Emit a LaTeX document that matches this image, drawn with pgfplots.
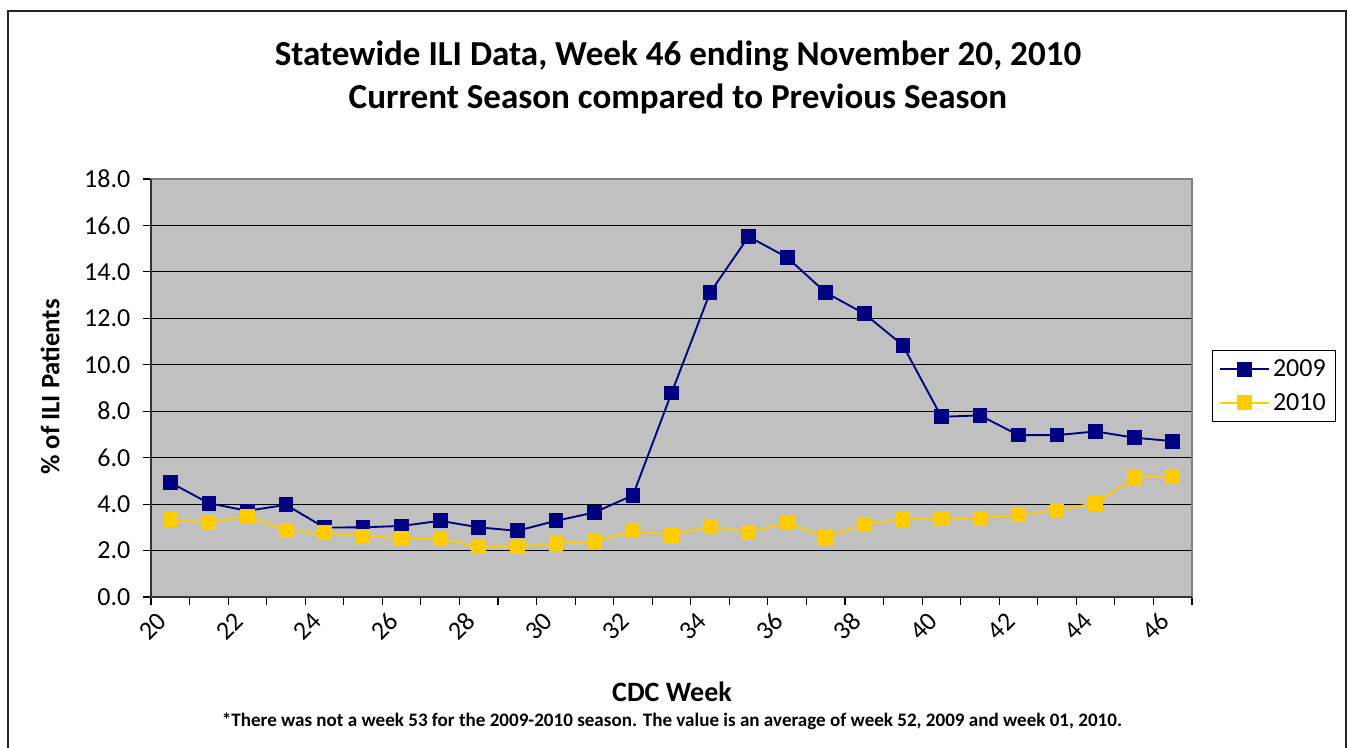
\documentclass[border=0pt]{standalone}
\usepackage{pgfplots}
\pgfplotsset{compat=1.18}
\usepackage{fontspec}
\setmainfont{Carlito}
\definecolor{navyS}{HTML}{000080}
\definecolor{goldS}{HTML}{FFCC00}
\definecolor{plotbg}{HTML}{C0C0C0}
\definecolor{bordergray}{HTML}{808080}
\begin{document}
\begin{tikzpicture}
\path[use as bounding box] (0,0) rectangle (1011pt,561pt);
\draw[line width=1.2pt, black!85] (6pt,-3pt) rectangle (1009.5pt,552.75pt);
\node[font=\bfseries\fontsize{26.3}{30}\selectfont] at (508.5pt,519pt) {Statewide ILI Data, Week 46 ending November 20, 2010};
\node[font=\bfseries\fontsize{26.3}{30}\selectfont] at (508.5pt,486.75pt) {Current Season compared to Previous Season};
\node[font=\bfseries\fontsize{20}{24}\selectfont, rotate=90] at (37.5pt,270.75pt) {\% of ILI Patients};
\node[font=\bfseries\fontsize{21}{25}\selectfont] at (504pt,42pt) {CDC Week};
\node[font=\bfseries\fontsize{14.3}{17}\selectfont] at (504pt,20.25pt) {*There was not a week 53 for the 2009-2010 season. The value is an average of week 52, 2009 and week 01, 2010.};
\begin{axis}[
  at={(113.25pt,113.25pt)}, anchor=south west,
  scale only axis, width=780.75pt, height=313.5pt,
  xmin=19.5, xmax=46.5, ymin=0, ymax=18,
  axis background/.style={fill=plotbg},
  axis line style={draw=bordergray, line width=1.5pt},
  ytick={0,2,...,18},
  yticklabel style={font=\fontsize{19.5}{23}\selectfont, xshift=-6pt, /pgf/number format/fixed, /pgf/number format/fixed zerofill, /pgf/number format/precision=1, /pgf/number format/assume math mode=true},
  ymajorgrids, grid style={black, line width=0.8pt},
  xtick={20,22,...,46},
  xticklabel style={rotate=45, anchor=east, xshift=-7pt, yshift=-2pt, font=\fontsize{19.5}{23}\selectfont, /pgf/number format/assume math mode=true},
  minor xtick={19.5,20.5,...,46.5},
  tick align=outside, xtick pos=bottom, ytick pos=left,
  x tick style={draw=none}, minor x tick style={draw=black, line width=0.8pt},
  y tick style={black, line width=0.8pt},
  minor tick length=6pt, major tick length=6pt,
  legend style={at={(1.0192,0.591)}, anchor=north west, draw=black, line width=0.8pt,
    font=\fontsize{19.5}{23}\selectfont, row sep=7pt, inner sep=5pt},
  legend image code/.code={\draw[mark repeat=2,mark phase=2] plot coordinates {(0cm,0cm) (0.65cm,0cm) (1.3cm,0cm)};},
  legend cell align=left,
  clip=false,
]
\draw[black!80, line width=1.5pt] (rel axis cs:0,0) -- (rel axis cs:0,1);
\draw[black!80, line width=1.5pt] (rel axis cs:0,0) -- (rel axis cs:1,0);
\addplot[navyS, line width=1.4pt, mark=square*, mark size=4.8pt] coordinates {
(20,4.93) (21,4.04) (22,3.71) (23,3.97) (24,2.99) (25,3.0) (26,3.06) (27,3.28)
(28,3.0) (29,2.85) (30,3.28) (31,3.64) (32,4.38) (33,8.78) (34,13.11) (35,15.52)
(36,14.62) (37,13.11) (38,12.2) (39,10.84) (40,7.76) (41,7.82) (42,6.97) (43,6.97)
(44,7.13) (45,6.86) (46,6.71)};
\addlegendentry{2009}
\addplot[goldS, line width=1.4pt, mark=square*, mark size=4.8pt] coordinates {
(20,3.35) (21,3.21) (22,3.49) (23,2.85) (24,2.78) (25,2.63) (26,2.52) (27,2.52)
(28,2.16) (29,2.16) (30,2.31) (31,2.38) (32,2.85) (33,2.66) (34,3.06) (35,2.78)
(36,3.21) (37,2.56) (38,3.14) (39,3.35) (40,3.39) (41,3.39) (42,3.54) (43,3.75)
(44,4.04) (45,5.14) (46,5.21)};
\addlegendentry{2010}
\end{axis}
\end{tikzpicture}
\end{document}
